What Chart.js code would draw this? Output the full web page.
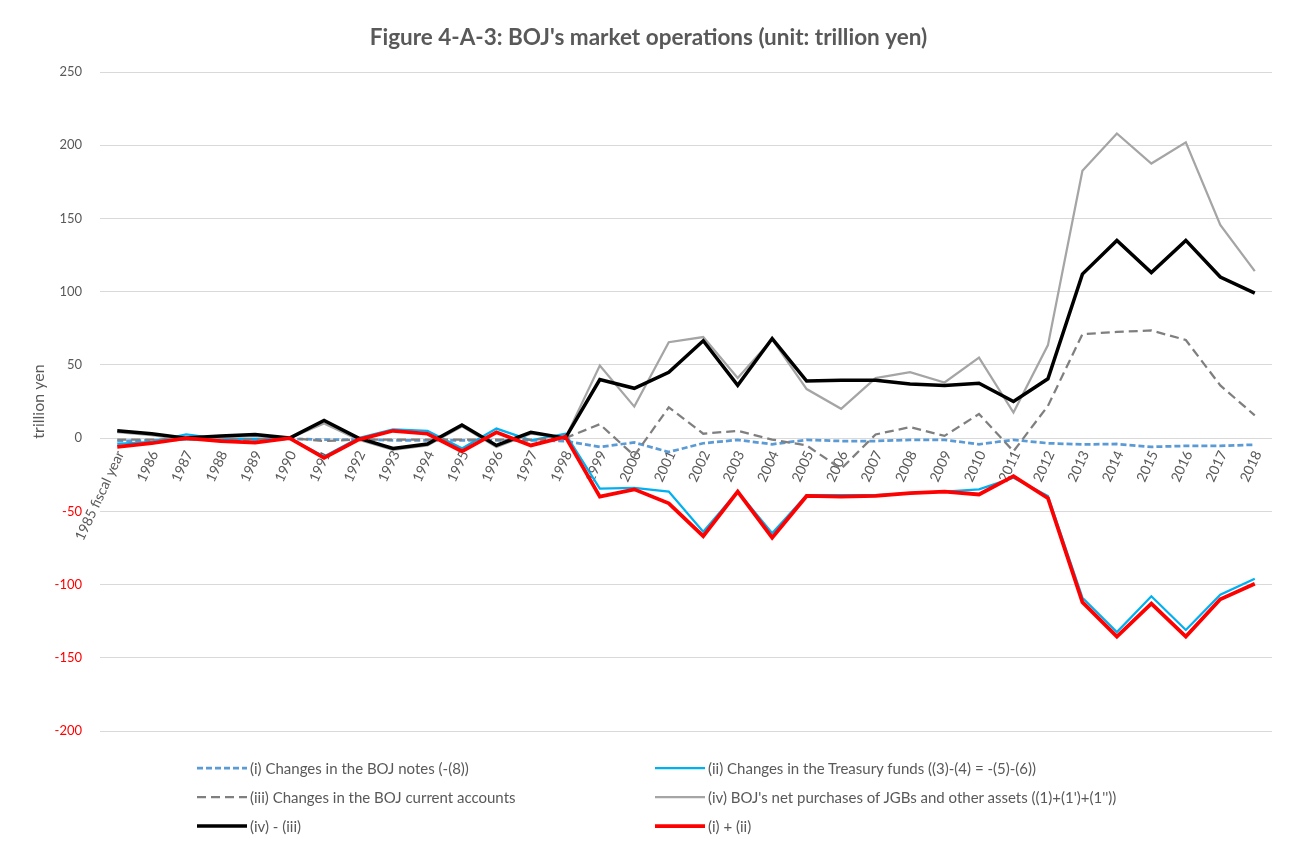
<!DOCTYPE html>
<html>
<head>
<meta charset="utf-8">
<title>Figure 4-A-3</title>
<script src="https://cdn.jsdelivr.net/npm/chart.js@4.4.1/dist/chart.umd.min.js"></script>
<style>
  body { margin: 0; background: #fff; }
  #contenedor { position: relative; width: 1290px; height: 843px; }
  #leyenda { position: absolute; left: 0; top: 0; width: 1290px; height: 843px; font-family: Lato, "Open Sans", sans-serif; font-size: 15px; color: #595959; }
  .item { position: absolute; display: flex; align-items: center; height: 18px; white-space: nowrap; }
  .item svg { margin-right: 3px; }
</style>
</head>
<body>
<div id="contenedor">
  <canvas id="grafico" width="1290" height="843"></canvas>
  <div id="leyenda"></div>
</div>
<script>
// Datos del grafico (billones de yenes, año fiscal)
const anios = ["1985 fiscal year", "1986", "1987", "1988", "1989", "1990", "1991", "1992", "1993", "1994",
  "1995", "1996", "1997", "1998", "1999", "2000", "2001", "2002", "2003", "2004", "2005", "2006",
  "2007", "2008", "2009", "2010", "2011", "2012", "2013", "2014", "2015", "2016", "2017", "2018"];

// (i) Changes in the BOJ notes
const cambiosBilletes = [-2, -1.5, -1, -1, -1, -0.5, -1, -1, -1.5, -1.5, -1.5, -1.5, -1.5, -2,
  -6, -3, -9.5, -3.5, -1.2, -4.2, -1.2, -2, -2, -1.2, -1.2, -4.2, -1.2, -3.5, -4.3, -4, -6, -5.3, -5.3, -4.5];

// (ii) Changes in the Treasury funds
const fondosTesoro = [-4, -2.5, 2.5, -0.5, -0.5, 0, -12.5, 0, 6, 5, -7, 6.5, -1.5, 3,
  -34.5, -34, -36.5, -64, -36.5, -65, -39, -39, -39, -37.5, -36.5, -35, -27, -39.5, -109, -132.5, -108, -131, -107, -96];

// (iii) Changes in the BOJ current accounts
const cuentasCorrientes = [-1, -1, -1, -1, -1, 0, -2, -1, -1, -1, -1, -1, -1, 0,
  9.5, -12, 21, 3, 5, -1, -5, -21, 2.5, 7.5, 1.5, 16.5, -9, 22, 71, 72.5, 73.5, 67, 36, 15.5];

// (iv) BOJ's net purchases of JGBs and other assets
const comprasNetas = [4, 2, -1, 0.5, 1.5, 0, 10, -1, -8, -5, 8, -6, 3, 0,
  49.5, 21.5, 65.5, 69, 41, 67.5, 33.5, 20, 41, 45, 38, 55, 17.5, 63.5, 182.5, 208, 187.5, 202, 145.5, 114];

// (iv) - (iii)
const ivMenosIii = [5, 3, 0, 1.5, 2.5, 0, 12, 0, -7, -4, 9, -5, 4, 0,
  40, 34, 45, 66.5, 36, 68, 39, 39.5, 39.5, 37, 36, 37.5, 25, 40.5, 112, 135, 113, 135, 110, 99];

// (i) + (ii)
const iMasIi = [-6, -3.5, 0, -2, -3, 0, -13.5, -1, 5, 3, -9, 4, -5, 1,
  -40, -35, -44.5, -67, -36.5, -68, -39.5, -40, -39.5, -37.5, -36.5, -38.5, -26, -41, -112, -135.5, -113, -135.5, -110, -99.5];

// Marcas del eje y
const marcasEjeY = [250, 200, 150, 100, 50, 0, -50, -100, -150, -200];

const gris = "#595959";
const fuente = "Lato, 'Open Sans', sans-serif";

// Series con su estilo (el orden es el de la leyenda)
const series = [
  { label: "(i) Changes in the BOJ notes (-(8))", data: cambiosBilletes, color: "#5B9BD5", ancho: 2.75, guion: [6, 3] },
  { label: "(ii) Changes in the Treasury funds ((3)-(4) = -(5)-(6))", data: fondosTesoro, color: "#00B0F0", ancho: 2.25, guion: [] },
  { label: "(iii) Changes in the BOJ current accounts", data: cuentasCorrientes, color: "#7F7F7F", ancho: 2.25, guion: [9, 5] },
  { label: "(iv) BOJ's net purchases of JGBs and other assets ((1)+(1')+(1''))", data: comprasNetas, color: "#A5A5A5", ancho: 2.25, guion: [] },
  { label: "(iv) - (iii)", data: ivMenosIii, color: "#000000", ancho: 3.5, guion: [] },
  { label: "(i) + (ii)", data: iMasIi, color: "#FF0000", ancho: 3.75, guion: [] },
];

function pintarGrafico() {
  const datasets = series.map((s, i) => ({
    label: s.label,
    data: s.data,
    borderColor: s.color,
    backgroundColor: s.color,
    borderWidth: s.ancho,
    borderDash: s.guion,
    pointRadius: 0,
    tension: 0,
    fill: false,
    order: series.length - i, // la ultima serie se pinta encima
  }));

  new Chart(document.getElementById("grafico"), {
    type: "line",
    data: { labels: anios, datasets: datasets },
    options: {
      responsive: false,
      animation: false,
      layout: { padding: { left: 25, right: 18, top: 0, bottom: 112 } },
      plugins: {
        legend: { display: false },
        tooltip: { enabled: false },
        title: {
          display: true,
          text: "Figure 4-A-3: BOJ's market operations (unit: trillion yen)",
          color: gris,
          font: { family: fuente, size: 22.5, weight: "bold" },
          padding: { top: 24, bottom: 21 },
        },
      },
      scales: {
        x: {
          position: { y: 0 },
          offset: true,
          grid: { display: false, drawTicks: false },
          border: { display: false },
          ticks: {
            autoSkip: false,
            minRotation: 65,
            maxRotation: 65,
            padding: 10,
            labelOffset: 3,
            color: gris,
            font: { family: fuente, size: 14 },
          },
          afterFit: function (scale) {
            scale.height = 0;
          },
        },
        y: {
          min: Math.min(...marcasEjeY),
          max: Math.max(...marcasEjeY),
          grid: { color: "#D9D9D9", lineWidth: 1, drawTicks: false },
          border: { display: false },
          ticks: {
            stepSize: 50,
            padding: 18,
            color: (ctx) => (ctx.tick.value < 0 ? "#FF0000" : gris),
            font: { family: fuente, size: 13 },
          },
          title: {
            display: true,
            text: "trillion yen",
            color: gris,
            font: { family: fuente, size: 16 },
          },
          afterFit: function (scale) {
            scale.width = 75;
          },
        },
      },
    },
  });
}

// Leyenda en dos columnas debajo del grafico
function pintarLeyenda() {
  const columnas = [197, 655];
  const filas = [768, 797, 826];
  let body = "";
  for (let i = 0; i < series.length; i++) {
    const s = series[i];
    const x = columnas[i % 2];
    const y = filas[Math.floor(i / 2)] - 9;
    body += `<div class="item" style="left:${x}px;top:${y}px">` +
      `<svg width="50" height="10"><line x1="0" y1="5" x2="50" y2="5" stroke="${s.color}" stroke-width="${s.ancho}" stroke-dasharray="${s.guion.join(",") || "none"}"/></svg>` +
      `<span>${s.label}</span></div>`;
  }
  document.getElementById("leyenda").innerHTML = body;
}

pintarGrafico();
pintarLeyenda();
</script>
</body>
</html>
